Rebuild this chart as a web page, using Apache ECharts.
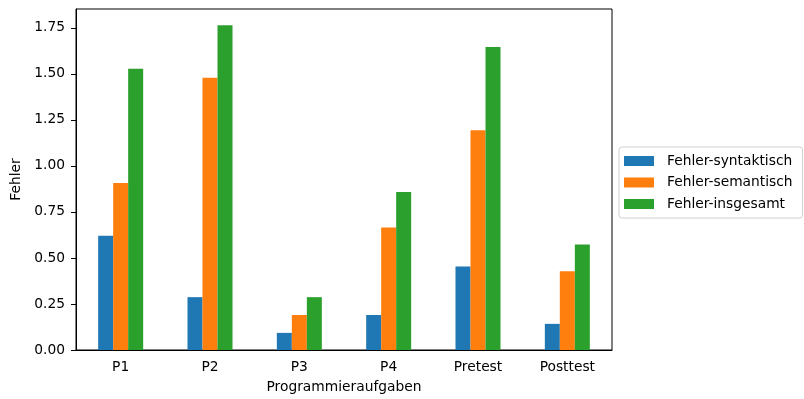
<!DOCTYPE html>
<html>
<head>
<meta charset="utf-8">
<script src="https://cdn.jsdelivr.net/npm/echarts@6/dist/echarts.min.js"></script>
<style>
html,body{margin:0;padding:0;background:#fff;}
#chart{width:804px;height:399px;}
</style>
</head>
<body>
<div id="chart"></div>
<script>
// Fehler je Programmieraufgabe
const categories = ['P1', 'P2', 'P3', 'P4', 'Pretest', 'Posttest'];
const syntaktisch = [0.621, 0.287, 0.093, 0.190, 0.454, 0.142];
const semantisch = [0.907, 1.479, 0.190, 0.665, 1.193, 0.428];
const insgesamt = [1.527, 1.764, 0.287, 0.858, 1.646, 0.573];
const yTicks = [0, 0.25, 0.5, 0.75, 1.0, 1.25, 1.5, 1.75];

const font = 'DejaVu Sans';
const fs = 13.8;
const chart = echarts.init(document.getElementById('chart'), null, {renderer: 'canvas'});

const makeSeries = (name, data, color) => ({
  name: name,
  type: 'bar',
  data: data,
  barWidth: 15,
  barGap: '0%',
  itemStyle: {color: color},
  emphasis: {disabled: true}
});

chart.setOption({
  animation: false,
  textStyle: {fontFamily: font},
  grid: {
    left: 76, top: 9, width: 536, height: 344,
    show: true, borderColor: '#000', borderWidth: 1, backgroundColor: 'transparent'
  },
  legend: {
    orient: 'vertical',
    left: 619, top: 147,
    itemWidth: 30, itemHeight: 10,
    itemGap: 5.5,
    padding: [6, 10, 6, 5],
    borderColor: '#d0d0d0', borderWidth: 1, borderRadius: 3,
    backgroundColor: '#fff',
    textStyle: {fontFamily: font, fontSize: fs, color: '#000', lineHeight: 16, padding: [0, 0, 0, 8]},
    icon: 'rect',
    data: ['Fehler-syntaktisch', 'Fehler-semantisch', 'Fehler-insgesamt']
  },
  xAxis: {
    type: 'category',
    data: categories,
    name: 'Programmieraufgaben',
    nameLocation: 'middle',
    nameGap: 30,
    nameTextStyle: {fontFamily: font, fontSize: fs, color: '#000'},
    axisLine: {lineStyle: {color: '#000', width: 1}},
    axisTick: {alignWithLabel: true, length: 5, lineStyle: {color: '#000'}},
    axisLabel: {fontFamily: font, fontSize: fs, color: '#000', margin: 10},
    splitLine: {show: false}
  },
  yAxis: {
    type: 'value',
    min: 0, max: 1.852,
    interval: 0.25,
    name: 'Fehler',
    nameLocation: 'middle',
    nameGap: 47,
    nameTextStyle: {fontFamily: font, fontSize: fs, color: '#000'},
    axisLine: {show: true, lineStyle: {color: '#000', width: 1}},
    axisTick: {show: true, length: 5, lineStyle: {color: '#000'}},
    axisLabel: {
      fontFamily: font, fontSize: fs, color: '#000', margin: 11,
      showMaxLabel: false,
      formatter: v => yTicks.some(t => Math.abs(t - v) < 1e-9) ? v.toFixed(2) : ''
    },
    splitLine: {show: false}
  },
  series: [
    makeSeries('Fehler-syntaktisch', syntaktisch, '#1f77b4'),
    makeSeries('Fehler-semantisch', semantisch, '#ff7f0e'),
    makeSeries('Fehler-insgesamt', insgesamt, '#2ca02c')
  ]
});
</script>
</body>
</html>
